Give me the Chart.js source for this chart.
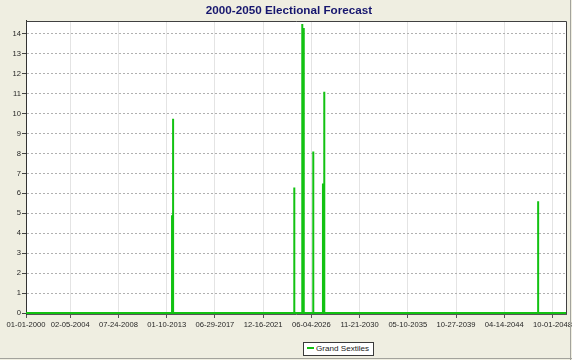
<!DOCTYPE html>
<html>
<head>
<meta charset="utf-8">
<title>2000-2050 Electional Forecast</title>
<script src="https://cdn.jsdelivr.net/npm/chart.js@4.4.1/dist/chart.umd.min.js"></script>
<style>
    html, body { margin: 0; padding: 0; background: #efeee1; }
    #wrap { position: relative; width: 572px; height: 360px; }
    #legend {
        position: absolute; left: 303px; top: 342px; height: 12px;
        padding: 0 4px 0 3px; border: 1px solid #3a3a3a; background: #fff;
        font: 8.1px "Liberation Sans", Arial, sans-serif; color: #222;
        line-height: 12px; white-space: nowrap;
    }
    #legend i { display: inline-block; width: 7px; height: 2px; background: #12c212; vertical-align: middle; margin: 0 2px 1px 0; }
</style>
</head>
<body>
<div id="wrap">
    <canvas id="chartForecast" width="572" height="360"></canvas>
    <div id="legend"><i></i>Grand Sextiles</div>
</div>
<script>
// 1. DATA (dates are MM-DD-YYYY, as printed on the axis)
const xTickLabels = ['01-01-2000', '02-05-2004', '07-24-2008', '01-10-2013', '06-29-2017', '12-16-2021',
                     '06-04-2026', '11-21-2030', '05-10-2035', '10-27-2039', '04-14-2044', '10-01-2048'];
const xAxisEnd = '01-01-2050';
const yTicks = [0, 1, 2, 3, 4, 5, 6, 7, 8, 9, 10, 11, 12, 13, 14];

// Grand Sextile peaks
const eventDates  = ['07-10-2013', '08-15-2013', '11-04-2024', '08-01-2025', '09-20-2025',
                     '08-08-2026', '07-01-2027', '08-15-2027', '06-04-2047'];
const eventValues = [4.9, 9.75, 6.3, 14.5, 14.3, 8.1, 6.5, 11.1, 5.6];

const fontFamily = "'Liberation Sans', Arial, sans-serif";

// 2. HELPERS
function parseDate(s) {
    const [m, d, y] = s.split('-').map(Number);
    return Date.UTC(y, m - 1, d);
}

function formatDate(v) {
    const dt = new Date(v);
    const p = n => String(n).padStart(2, '0');
    return `${p(dt.getUTCMonth() + 1)}-${p(dt.getUTCDate())}-${dt.getUTCFullYear()}`;
}

// Series sits on zero and jumps up on each event day
function buildSeries() {
    let pontos = [{ x: parseDate(xTickLabels[0]), y: 0 }];
    eventDates.forEach((d, i) => {
        const t = parseDate(d);
        pontos.push({ x: t, y: 0 }, { x: t, y: eventValues[i] }, { x: t, y: 0 });
    });
    pontos.push({ x: parseDate(xAxisEnd), y: 0 });
    return pontos;
}

// 3. BACKGROUND / FRAME
const framePlugin = {
    id: 'frame',
    beforeDraw(chart) {
        const { ctx, chartArea: a } = chart;
        ctx.save();
        ctx.fillStyle = '#efeee1';
        ctx.fillRect(0, 0, chart.width, chart.height);
        ctx.fillStyle = '#ffffff';
        ctx.fillRect(a.left, a.top, a.right - a.left, a.bottom - a.top);
        ctx.restore();
    },
    afterDraw(chart) {
        const { ctx, chartArea: a } = chart;
        const top = Math.round(a.top) + 0.5, right = Math.round(a.right) + 0.5;
        ctx.save();
        ctx.strokeStyle = '#404040';
        ctx.lineWidth = 1;
        ctx.beginPath();
        ctx.moveTo(a.left, top);
        ctx.lineTo(right, top);
        ctx.lineTo(right, a.bottom);
        ctx.stroke();
        // outer shadow edge
        ctx.fillStyle = '#a3a39c';
        ctx.fillRect(570, 0, 1, chart.height);
        ctx.fillRect(0, 358, chart.width, 1);
        ctx.restore();
    }
};

// 4. CHART
function desenharGrafico() {
    const ctx = document.getElementById('chartForecast').getContext('2d');
    const tickFont = { family: fontFamily, size: 7.6 };

    new Chart(ctx, {
        type: 'line',
        data: {
            datasets: [{
                label: 'Grand Sextiles',
                data: buildSeries(),
                borderColor: '#12c212',
                borderWidth: 2,
                borderJoinStyle: 'bevel',
                pointRadius: 0,
                fill: false,
                tension: 0
            }]
        },
        options: {
            responsive: false,
            animation: false,
            devicePixelRatio: 1,
            layout: { padding: { left: 12, right: 6, top: 0, bottom: 0 } },
            plugins: {
                legend: { display: false },
                tooltip: { enabled: false },
                title: {
                    display: true,
                    text: '2000-2050 Electional Forecast',
                    color: '#16166e',
                    font: { family: fontFamily, size: 11.7, weight: 'bold', lineHeight: 1.2 },
                    padding: { top: 4, bottom: 2.9 }
                }
            },
            scales: {
                x: {
                    type: 'linear',
                    min: parseDate(xTickLabels[0]),
                    max: parseDate(xAxisEnd),
                    afterBuildTicks: s => { s.ticks = xTickLabels.map(l => ({ value: parseDate(l) })); },
                    afterFit: s => { s.height = 46; s.paddingLeft = 0; s.paddingRight = 0; },
                    ticks: { autoSkip: false, maxRotation: 0, padding: 2, color: '#262626', font: tickFont, callback: v => formatDate(v) },
                    grid: { color: '#e4e4e4', lineWidth: 1, tickLength: 4, tickColor: '#555' },
                    border: { color: '#555', width: 1 }
                },
                y: {
                    min: -0.05,
                    max: 14.65,
                    afterBuildTicks: s => { s.ticks = yTicks.map(v => ({ value: v })); },
                    afterFit: s => { s.width = 14; s.paddingTop = 0; s.paddingBottom = 0; },
                    ticks: { padding: 1, color: '#262626', font: tickFont, callback: v => v },
                    grid: { color: '#b0b0b0', tickLength: 4, tickColor: '#444', tickBorderDash: [] },
                    border: { color: '#333', width: 1, dash: [2, 2] }
                }
            }
        },
        plugins: [framePlugin]
    });
}

window.onload = () => {
    desenharGrafico();
};
</script>
</body>
</html>
